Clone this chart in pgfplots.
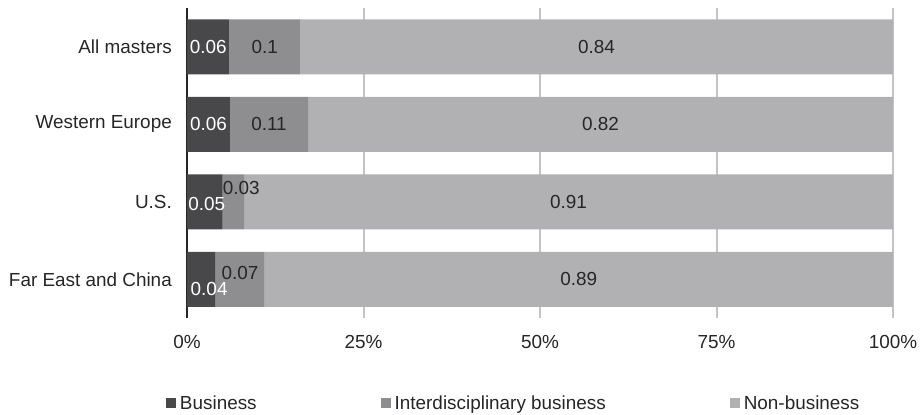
\documentclass[border=0pt]{standalone}
\usepackage{pgfplots}
\pgfplotsset{compat=1.18}
\usepackage{pgfplotstable}
\usepackage{fontspec}
\setmainfont{Liberation Sans}
\definecolor{cB}{HTML}{48484A}
\definecolor{cI}{HTML}{8E8E90}
\definecolor{cN}{HTML}{B1B1B3}
\definecolor{cGrid}{HTML}{C4C4C4}
\definecolor{cTxt}{HTML}{262626}

% raw shares; bx..ny are label offsets (bp) for crowded labels
\pgfplotstableread{
cat b i n bx by ix iy nx ny
0 0.06 0.1 0.84 0 0 0 0 0 0
1 0.06 0.11 0.82 0 0 0 0 0 0
2 0.05 0.03 0.91 2 -2 8 13.5 0 0
3 0.04 0.07 0.89 8 -10 0 6.5 0 0
}\shares

\newcommand{\tot}{(\thisrow{b}+\thisrow{i}+\thisrow{n})}
\newcommand{\cf}{\fontsize{18.9bp}{22bp}\selectfont}

\pgfplotsset{base/.style={scale only axis, width=706bp, height=310bp,
  at={(187bp,97bp)}, anchor=south west, xmin=0, xmax=1, ymin=-0.5, ymax=3.5,
  enlargelimits=false, y dir=reverse}}

\begin{document}
\begin{tikzpicture}
\useasboundingbox (0,0) rectangle (922bp,415bp);
\begin{axis}[base, xbar stacked, bar width=55bp,
  axis lines*=left, axis line style={-},
  x axis line style={draw=none},
  y axis line style={draw=cTxt, line width=2.2bp},
  xmajorgrids, grid style={draw=cGrid, line width=2bp},
  major tick length=0pt,
  xtick={0,0.25,0.5,0.75,1}, xticklabels={0\%,25\%,50\%,75\%,100\%},
  ytick={0,1,2,3}, yticklabels={All masters, Western Europe, U.S., Far East and China},
  tick label style={font=\cf, text=cTxt, inner sep=0pt},
  xticklabel style={anchor=center, yshift=-24bp},
  yticklabel style={anchor=east, xshift=-15bp},
  legend style={at={(-0.02975,-0.2742)}, anchor=west, draw=none, fill=none,
    inner sep=0pt, outer sep=0pt, legend columns=3, font=\cf, text=cTxt,
    nodes={inner sep=0pt},
    /tikz/every odd column/.append style={column sep=4bp},
    /tikz/every even column/.append style={column sep=124bp}},
  legend image code/.code={\fill[#1] (0bp,-5bp) rectangle (10bp,5bp);},
]
\addplot[fill=cB, draw=none] table[y=cat, x expr=\thisrow{b}/\tot] {\shares};
\addlegendentry{Business}
\addplot[fill=cI, draw=none] table[y=cat, x expr=\thisrow{i}/\tot] {\shares};
\addlegendentry{Interdisciplinary business}
\addplot[fill=cN, draw=none] table[y=cat, x expr=\thisrow{n}/\tot] {\shares};
\addlegendentry{Non-business}
\end{axis}

\begin{axis}[base, hide axis, clip=false]
\addplot[only marks, mark=*, mark size=0pt, mark options={draw=none, fill=none},
  point meta=explicit symbolic, nodes near coords,
  visualization depends on={\thisrow{bx} \as \dx},
  visualization depends on={\thisrow{by} \as \dy},
  nodes near coords style={font=\cf, text=white, anchor=center, inner sep=0pt, xshift=\dx*1bp, yshift=\dy*1bp}]
  table[y=cat, x expr={0.5*\thisrow{b}/\tot}, meta=b] {\shares};
\addplot[only marks, mark=*, mark size=0pt, mark options={draw=none, fill=none},
  point meta=explicit symbolic, nodes near coords,
  visualization depends on={\thisrow{ix} \as \dx},
  visualization depends on={\thisrow{iy} \as \dy},
  nodes near coords style={font=\cf, text=cTxt, anchor=center, inner sep=0pt, xshift=\dx*1bp, yshift=\dy*1bp}]
  table[y=cat, x expr={(\thisrow{b}+0.5*\thisrow{i})/\tot}, meta=i] {\shares};
\addplot[only marks, mark=*, mark size=0pt, mark options={draw=none, fill=none},
  point meta=explicit symbolic, nodes near coords,
  visualization depends on={\thisrow{nx} \as \dx},
  visualization depends on={\thisrow{ny} \as \dy},
  nodes near coords style={font=\cf, text=cTxt, anchor=center, inner sep=0pt, xshift=\dx*1bp, yshift=\dy*1bp}]
  table[y=cat, x expr={(\thisrow{b}+\thisrow{i}+0.5*\thisrow{n})/\tot}, meta=n] {\shares};
\end{axis}
\end{tikzpicture}
\end{document}
